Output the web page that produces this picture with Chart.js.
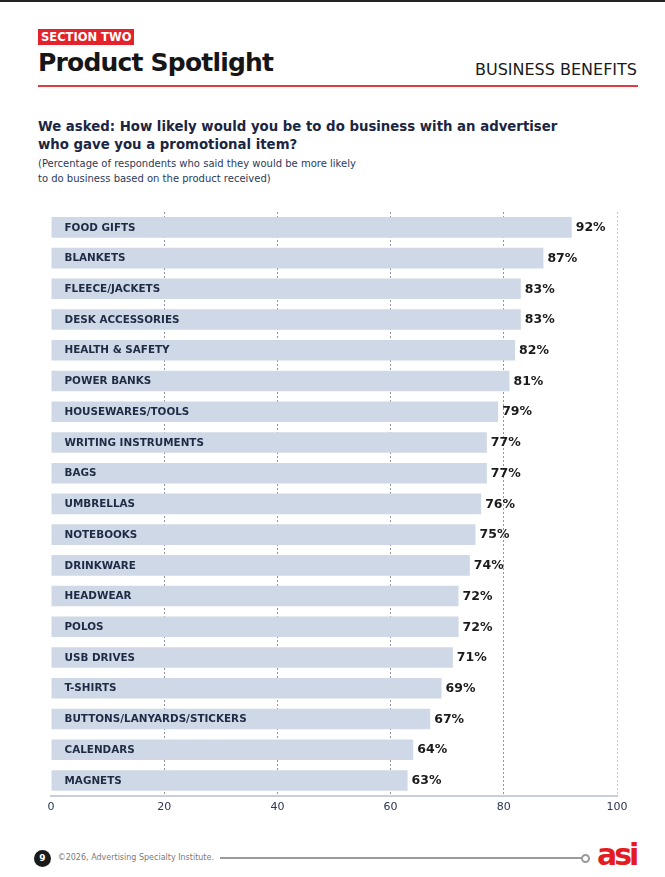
<!DOCTYPE html>
<html>
<head>
<meta charset="utf-8">
<script src="https://cdn.jsdelivr.net/npm/chart.js@4.4.1/dist/chart.umd.min.js"></script>
<style>
  html, body { margin: 0; padding: 0; background: #fff; }
  body { width: 665px; height: 877px; position: relative; overflow: hidden; font-family: 'DejaVu Sans', sans-serif; }
  .abs { position: absolute; white-space: nowrap; }
  #topbar { left: 0; top: 0; width: 665px; height: 2px; background: #222; }
  #section { left: 38px; top: 29px; width: 93px; height: 16px; padding-left: 3px; background: #e3222b; color: #fff; font-weight: bold; font-size: 11.5px; line-height: 16px; }
  #title { left: 38px; top: 49.5px; font-size: 25px; line-height: 25px; font-weight: bold; color: #161616; letter-spacing: -0.8px; }
  #bb { right: 28px; top: 61.8px; font-size: 16px; line-height: 16px; color: #1a1a1a; }
  #redline { left: 38px; top: 85px; width: 600px; height: 2px; background: #e23b40; }
  #q { left: 38px; top: 118.4px; font-size: 13.3px; line-height: 18px; font-weight: bold; color: #1c2541; }
  #sub { left: 38px; top: 156px; font-size: 10px; line-height: 15px; color: #2c3a5a; }
  #chartwrap { left: 0; top: 195px; width: 665px; height: 640px; }
  #pg { left: 34px; top: 850px; width: 17px; height: 17px; border-radius: 50%; background: #1a1a1a; color: #fff; font-size: 9px; font-weight: bold; line-height: 17px; text-align: center; }
  #copy { left: 57.7px; top: 853px; font-size: 8px; line-height: 10px; color: #7a7a7a; }
  #fline { left: 220px; top: 857px; width: 362px; height: 2px; background: #9a9a9a; }
  #fdot { left: 581px; top: 854px; width: 5px; height: 5px; border: 2px solid #9a9a9a; border-radius: 50%; background: #fff; }
  #logo { left: 597px; top: 840px; font-size: 30px; line-height: 30px; font-weight: bold; color: #e31b23; letter-spacing: -3px; }
</style>
</head>
<body>
<div class="abs" id="topbar"></div>
<div class="abs" id="section">SECTION TWO</div>
<div class="abs" id="title">Product Spotlight</div>
<div class="abs" id="bb">BUSINESS BENEFITS</div>
<div class="abs" id="redline"></div>
<div class="abs" id="q">We asked: How likely would you be to do business with an advertiser<br>who gave you a promotional item?</div>
<div class="abs" id="sub">(Percentage of respondents who said they would be more likely<br>to do business based on the product received)</div>
<div class="abs" id="chartwrap"><canvas id="c"></canvas></div>
<div class="abs" id="pg">9</div>
<div class="abs" id="copy">©2026, Advertising Specialty Institute.</div>
<div class="abs" id="fline"></div>
<div class="abs" id="fdot"></div>
<div class="abs" id="logo">asi</div>
<script>
const categories = [
  "FOOD GIFTS", "BLANKETS", "FLEECE/JACKETS", "DESK ACCESSORIES", "HEALTH & SAFETY",
  "POWER BANKS", "HOUSEWARES/TOOLS", "WRITING INSTRUMENTS", "BAGS", "UMBRELLAS",
  "NOTEBOOKS", "DRINKWARE", "HEADWEAR", "POLOS", "USB DRIVES", "T-SHIRTS",
  "BUTTONS/LANYARDS/STICKERS", "CALENDARS", "MAGNETS"
];
const values = [92, 87, 83, 83, 82, 81, 79, 77, 77, 76, 75, 74, 72, 72, 71, 69, 67, 64, 63];
const xTickValues = [0, 20, 40, 60, 80, 100];

const FONT = "'DejaVu Sans', sans-serif";

const labelPlugin = {
  id: 'barLabels',
  afterDatasetsDraw(chart) {
    const ctx = chart.ctx;
    const meta = chart.getDatasetMeta(0);
    const area = chart.chartArea;
    ctx.save();
    ctx.textBaseline = 'middle';
    meta.data.forEach((bar, i) => {
      ctx.font = "bold 10.4px " + FONT;
      ctx.fillStyle = '#1f2a44';
      ctx.textAlign = 'left';
      ctx.fillText(chart.data.labels[i], area.left + 13.5, bar.y + 0.5);
      ctx.font = "bold 12.5px " + FONT;
      ctx.fillStyle = '#1b1b1b';
      ctx.fillText(values[i] + '%', bar.x + 4, bar.y + 0.5);
    });
    ctx.restore();
  }
};

new Chart(document.getElementById('c'), {
  type: 'bar',
  data: {
    labels: categories,
    datasets: [{
      data: values,
      backgroundColor: '#cfd8e6',
      borderWidth: 0,
      barPercentage: 0.67,
      categoryPercentage: 1.0
    }]
  },
  options: {
    indexAxis: 'y',
    responsive: true,
    maintainAspectRatio: false,
    animation: false,
    layout: { padding: { left: 51, right: 48, top: 17, bottom: 16 } },
    plugins: { legend: { display: false }, tooltip: { enabled: false } },
    scales: {
      y: { display: false },
      x: {
        min: 0, max: 100,
        z: 1,
        afterBuildTicks(scale) { scale.ticks = xTickValues.map(v => ({ value: v })); },
        grid: {
          drawTicks: false,
          lineWidth: 1,
          color: (c) => c.tick && c.tick.value === 0 ? 'rgba(0,0,0,0)' : (c.tick && c.tick.value === 100 ? '#c4c9d3' : '#8d95a5')
        },
        border: { display: true, color: '#c9cfda', width: 2, dash: [2, 2] },
        ticks: {
          padding: 5,
          color: '#2a3550',
          font: { family: FONT, size: 11 }
        }
      }
    }
  },
  plugins: [labelPlugin]
});
</script>
</body>
</html>
